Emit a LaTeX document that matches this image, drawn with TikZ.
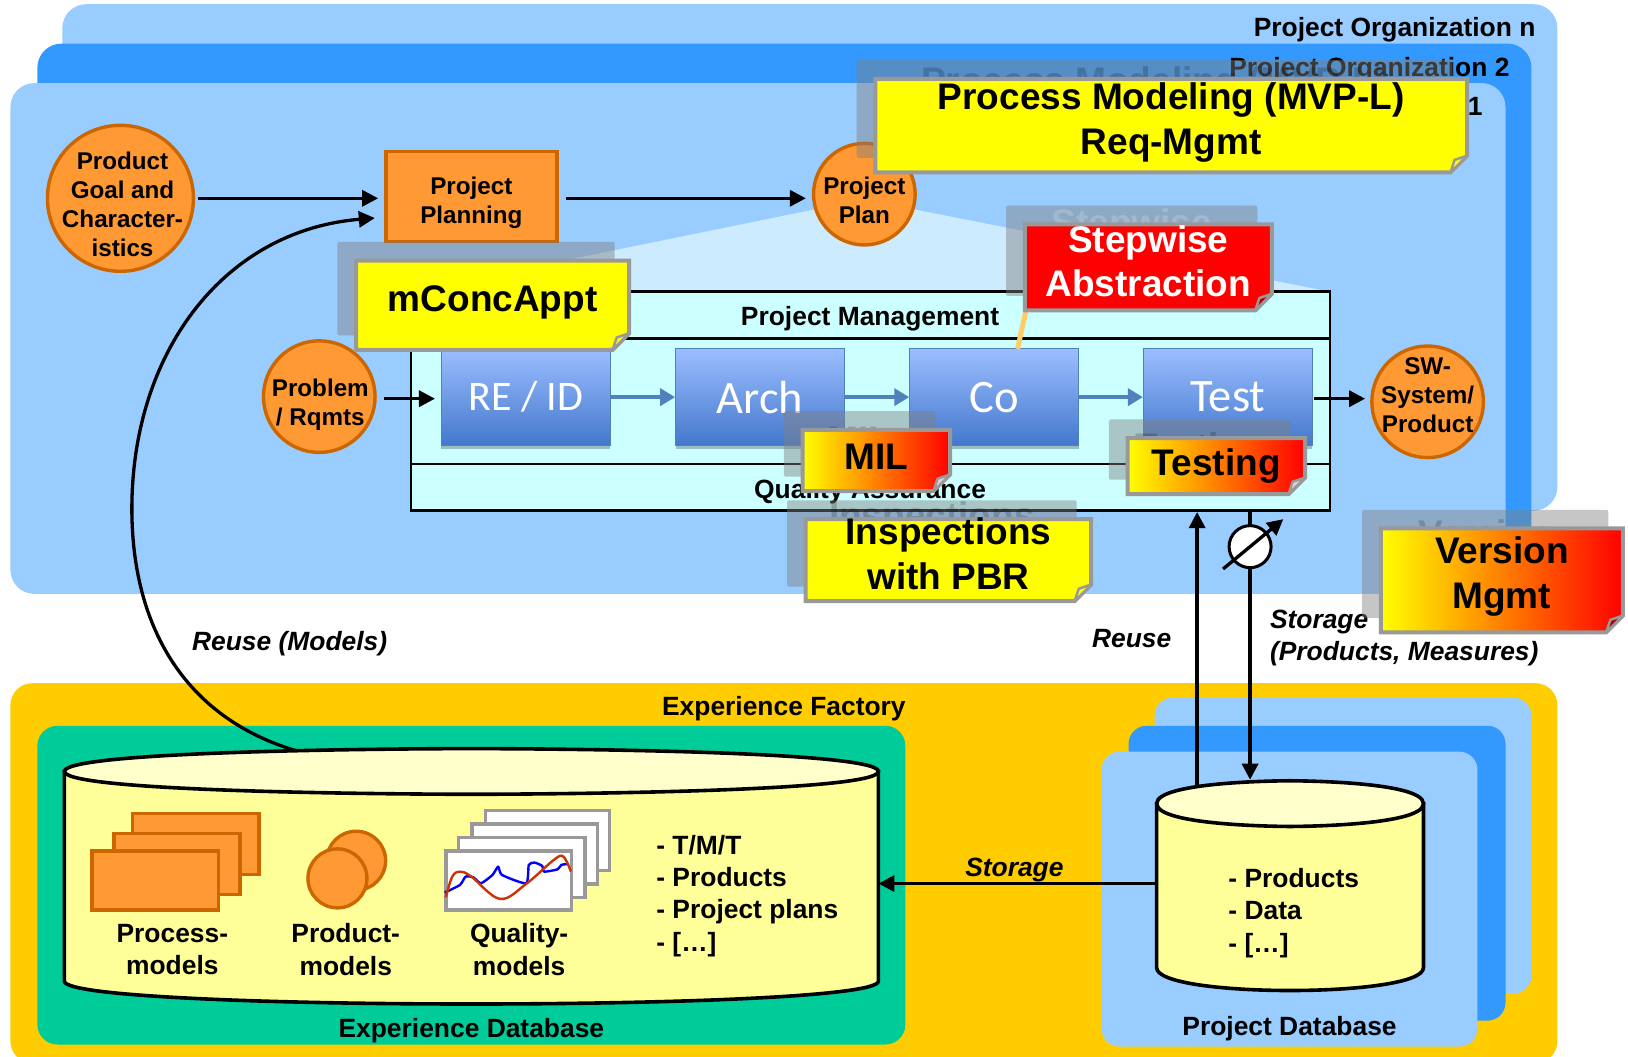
\documentclass[tikz,border=0pt]{standalone}
\usepackage{fontspec}
\setmainfont{Liberation Sans}
\newfontfamily\carl{Carlito}
\usetikzlibrary{arrows.meta,shadows,calc}
\definecolor{layerlight}{HTML}{99CCFF}
\definecolor{layerdark}{HTML}{3399FF}
\definecolor{funnelblue}{HTML}{CCEBFF}
\definecolor{framefill}{HTML}{CCFFFF}
\definecolor{orangefill}{HTML}{FF9933}
\definecolor{orangeline}{HTML}{CC6600}
\definecolor{factory}{HTML}{FFCC00}
\definecolor{tealfill}{HTML}{00CC99}
\definecolor{dbbody}{HTML}{FFFF99}
\definecolor{dbtop}{HTML}{FFFFCC}
\definecolor{notegray}{HTML}{999999}
\definecolor{shadowgray}{HTML}{808080}
\definecolor{flowblue}{HTML}{4F81BD}
\definecolor{boxtop}{HTML}{9BBEFF}
\definecolor{boxbot}{HTML}{4478CC}
\definecolor{linkorange}{HTML}{FFCC66}
\definecolor{curveblue}{HTML}{0000FF}
\definecolor{curvered}{HTML}{CC3300}
\definecolor{noteyellow}{RGB}{255,255,0}
\definecolor{notered}{RGB}{255,0,0}
\definecolor{folddark}{HTML}{B30000}
\definecolor{foldlight}{HTML}{D9D9D9}
\tikzset{
  txt/.style={font=\fontsize{26.4}{32.2}\selectfont\bfseries,align=center,inner sep=0pt},
  lefttxt/.style={txt,align=left,anchor=west},
  ital/.style={font=\fontsize{26.4}{32.2}\selectfont\bfseries\itshape,align=left,inner sep=0pt},
  smalltxt/.style={font=\fontsize{24.2}{29}\selectfont\bfseries,align=center,inner sep=0pt},
  bubble/.style={circle,draw=orangeline,fill=orangefill,line width=3.4pt,inner sep=0pt},
  orangebox/.style={rectangle,draw=orangeline,fill=orangefill,line width=3.4pt,inner sep=0pt},
  sheet/.style={draw=notegray,fill=white,line width=3.4pt},
  oframe/.style={draw=orangeline,fill=orangefill,line width=3.4pt},
  flowbox/.style={rectangle,draw=flowblue,top color=boxtop,bottom color=boxbot,line width=.8pt,inner sep=0pt,
    minimum width=169pt,minimum height=96.5pt,text=white,font=\carl\fontsize{46.5}{50}\selectfont,
    drop shadow={shadow xshift=0pt,shadow yshift=-3.5pt,opacity=.25,fill=black}},
  flow/.style={draw=flowblue,line width=4.5pt,-{Triangle[length=15pt,width=17pt]}},
  arrow/.style={draw=black,line width=3.3pt,-{Triangle[length=16pt,width=16pt]}},
  plainline/.style={draw=black,line width=2.6pt},
  dbline/.style={draw=black,line width=3.6pt},
  notefont/.style={font=\fontsize{37}{44.6}\selectfont\bfseries,align=center,inner sep=0pt},
}
\newcommand{\stickynote}[9]{%
  \pgfmathsetmacro{\nL}{#2+2}\pgfmathsetmacro{\nT}{#3+2}%
  \pgfmathsetmacro{\nR}{#4-2}\pgfmathsetmacro{\nB}{#5-2}%
  \pgfmathsetmacro{\nsL}{#2-16}\pgfmathsetmacro{\nsT}{#3-16}%
  \pgfmathsetmacro{\nsR}{#4-16}\pgfmathsetmacro{\nsB}{#5-16}%
  \pgfmathsetmacro{\nCx}{(#2+#4)/2}\pgfmathsetmacro{\nCy}{(#3+#5)/2+#9}%
  \pgfmathsetmacro{\nGx}{\nCx-16}\pgfmathsetmacro{\nGy}{\nCy-16}%
  \pgfmathsetmacro{\nFa}{\nB-16}\pgfmathsetmacro{\nFb}{\nR-16}%
  \pgfmathsetmacro{\nFc}{\nR-12}\pgfmathsetmacro{\nFd}{\nB-12}%
  \fill[shadowgray,opacity=.45,rounded corners=2pt] (\nsL,\nsT) rectangle (\nsR,\nsB);
  \node[notefont,text=#7,opacity=.18] (#1ghost) at (\nGx,\nGy) {#8};
  \path[draw=notegray,line width=4pt,#6] (\nL,\nT) -- (\nR,\nT) -- (\nR,\nFa) -- (\nFb,\nB) -- (\nL,\nB) -- cycle;
  \path[draw=notegray,fill=\foldcol,line width=2.5pt,line join=round] (\nR,\nFa) -- (\nFc,\nFd) -- (\nFb,\nB) -- cycle;
  \node[notefont,text=#7] (#1) at (\nCx,\nCy) {#8};
}
% name, left, right, top centre y, bottom centre y, radius of the ellipse
\newcommand{\dbcyl}[6]{%
  \pgfmathsetmacro{\dC}{(#2+#3)/2}\pgfmathsetmacro{\dRx}{(#3-#2)/2}%
  \pgfmathsetmacro{\dBb}{#5+1.333*#6}\pgfmathsetmacro{\dTa}{#4-#6}\pgfmathsetmacro{\dTb}{#4+#6}%
  \path[dbline,fill=dbbody] (#2,#4) -- (#2,#5) .. controls (#2,\dBb) and (#3,\dBb) .. (#3,#5) -- (#3,#4) -- cycle;
  \path[dbline,fill=dbtop] (#2,#4) .. controls (#2,\dTa) and (\dC,\dTa) .. (\dC,\dTa) .. controls (\dC,\dTa) and (#3,\dTa) .. (#3,#4) .. controls (#3,\dTb) and (\dC,\dTb) .. (\dC,\dTb) .. controls (\dC,\dTb) and (#2,\dTb) .. (#2,#4) -- cycle;
}
\begin{document}
\begin{tikzpicture}[x=1.0383pt,y=-1.0383pt,line join=miter]
\useasboundingbox (0,0) rectangle (1568,1018);
% project organisation layers
\fill[layerlight,rounded corners=24pt] (60,4) rectangle (1500,492);
\fill[layerdark,rounded corners=24pt] (36,42) rectangle (1475,535);
\fill[layerlight,rounded corners=24pt] (10,80) rectangle (1450,572);
\node[txt,anchor=east] (orgn) at (1479,29) {Project Organization n};
\node[txt,anchor=east] (org2) at (1454,67) {Project Organization 2};
\node[txt,anchor=east] (org1) at (1428,105) {Project Organization 1};
% funnel
\fill[funnelblue] (832,192) -- (396,281) -- (1281,281) -- cycle;
% frame
\node[draw=black,fill=framefill,line width=2.6pt,minimum width=919pt,minimum height=219pt,inner sep=0pt] (frame) at (838.5,386.5) {};
\coordinate (pmL) at (396,326); \coordinate (pmR) at (1281,326);
\coordinate (qaL) at (396,447); \coordinate (qaR) at (1281,447);
\draw[plainline] (pmL) -- (pmR);
\draw[plainline] (qaL) -- (qaR);
\node[txt] (pm) at (838,307) {Project Management};
\node[txt] (qa) at (838,474) {Quality Assurance};
% nodes of the process
\node[bubble,minimum size=146pt] (goal) at (116,191) {};
\node[smalltxt] (goaltext) at (118,197) {Product\\Goal and\\Character-\\istics};
\node[orangebox,minimum width=171pt,minimum height=90pt] (plan) at (454,189.5) {};
\node[smalltxt] (plantext) at (454,195) {Project\\Planning};
\node[bubble,minimum size=101.6pt] (pplan) at (832.5,187) {};
\node[smalltxt] (pplantext) at (832.5,193) {Project\\Plan};
\node[bubble,minimum size=111.6pt] (prob) at (307.5,382) {};
\node[smalltxt] (probtext) at (308.5,390) {Problem\\/ Rqmts};
\node[bubble,minimum size=111.6pt] (sw) at (1375,387) {};
\node[smalltxt] (swtext) at (1375,381) {SW-\\System/\\Product};
\node[flowbox,font=\carl\fontsize{42}{46}\selectfont] (re) at (506.5,382.5) {RE / ID};
\node[flowbox] (arch) at (732,382.5) {Arch};
\node[flowbox] (co) at (957.5,382.5) {Co};
\node[flowbox] (test) at (1182.5,382.5) {Test};
\draw[flow] (re) -- (arch);
\draw[flow] (arch) -- (co);
\draw[flow] (co) -- (test);
\draw[arrow,shorten <=3pt,shorten >=6pt] (goal.east |- 0,191) -- (plan.west |- 0,191);
\draw[arrow,shorten <=7pt,shorten >=6pt] (plan.east |- 0,191) -- (pplan.west |- 0,191);
\draw[arrow,shorten <=7pt,shorten >=6pt] (prob.east |- 0,384) -- (re.west |- 0,384);
\draw[arrow,shorten <=1pt,shorten >=5pt] (test.east |- 0,384) -- (sw.west |- 0,384);
% link from the Stepwise note to Co
\coordinate (stepFoot) at (988,300);
\coordinate (coTop) at (980,336);
\draw[linkorange,line width=5pt] (stepFoot) -- (coTop);
% experience factory
\fill[factory,rounded corners=22pt] (10,658) rectangle (1500,1024);
\node[txt] (ef) at (755,683) {Experience Factory};
\fill[tealfill,rounded corners=20pt] (36,699) rectangle (872,1006);
\node[txt] (edblabel) at (454,993) {Experience Database};
% project database stack
\fill[layerlight,rounded corners=18pt] (1112,672) rectangle (1475,957);
\fill[layerdark,rounded corners=18pt] (1087,699) rectangle (1450,983);
\fill[layerlight,rounded corners=18pt] (1061,724) rectangle (1423,1008);
\node[txt] (pdblabel) at (1242,991) {Project Database};
% reuse of models
\coordinate (edbCurve) at (285,723);
\coordinate (planIn) at (361,210);
\coordinate (curveMid) at (127,490);
\draw[arrow] (edbCurve) .. controls (175,690) and (127,600) .. (curveMid) .. controls (127,340) and (215,222) .. (planIn);
\node[ital] (reusemodels) at (279,620) {Reuse (Models)};
% databases
\dbcyl{edb}{62}{846}{743}{945}{22}
\dbcyl{pdb}{1114}{1371}{774}{932}{22}
% model icons
\path[oframe] (127.7,783.7) rectangle (249.3,842.3);
\path[oframe] (109.7,802.7) rectangle (231.3,861.3);
\path[oframe] (88.7,819.7) rectangle (210.3,876.3);
\node[txt] (procm) at (166,914.5) {Process-\\models};
\node[bubble,minimum size=59pt] (prodback) at (343,829) {};
\node[bubble,minimum size=59pt] (prodfront) at (325,846) {};
\node[txt] (prodm) at (333,914.5) {Product-\\models};
\path[sheet] (467.7,780.7) rectangle (587.3,838.3);
\path[sheet] (454.7,793.7) rectangle (575.3,851.3);
\path[sheet] (441.7,806.7) rectangle (563.3,864.3);
\path[sheet] (429.7,819.7) rectangle (550.3,876.3);
\draw[curveblue,line width=2.4pt,line join=round] plot[smooth,tension=.35] coordinates {(428.2,859.7) (443,852.3) (448.5,844.3) (455.9,845) (463.2,850.7) (474.3,842.7) (479.8,834.7) (483.5,842.7) (506.7,850.7) (509.3,833) (514.9,830.8) (522.2,834) (524.1,839.5) (537,837.3) (540.7,833) (548,832.1)};
\draw[curvered,line width=2.4pt] plot[smooth,tension=.6] coordinates {(429.4,864.2) (435.6,844.3) (443,839.5) (454,844.3) (481.7,865.8) (507.5,850.7) (533.3,828.3) (542.5,825) (549.9,839.5)};
\node[txt] (qualm) at (500,914.5) {Quality-\\models};
\node[lefttxt] (edblist) at (632,863) {- T/M/T\\- Products\\- Project plans\\- […]};
\node[lefttxt] (pdblist) at (1183,879.5) {- Products\\- Data\\- […]};
% storage and reuse between the databases and the process
\coordinate (edbE) at (846,851);
\coordinate (pdbW) at (1114,851);
\coordinate (pdbReuse) at (1153,757);
\coordinate (pdbStore) at (1204,751);
\draw[arrow] (pdbW) -- (edbE);
\node[ital] (storagea) at (977,838) {Storage};
\draw[arrow] (pdbReuse) -- (pdbReuse |- frame.south);
\draw[arrow] (pdbStore |- frame.south) -- (pdbStore);
\node[ital] (reuse) at (1090,615) {Reuse};
\node[ital,anchor=west] (storageb) at (1223,614.5) {Storage\\(Products, Measures)};
\node[circle,draw=black,fill=white,line width=3pt,minimum size=42pt,inner sep=0pt] (pump) at (1204,526.5) {};
\coordinate (pumpA) at (1178,548);
\coordinate (pumpB) at (1236,500);
\draw[arrow] (pumpA) -- (pumpB);
% notes
\def\foldcol{noteyellow}
\stickynote{mvp}{841}{74}{1415}{168}{fill=noteyellow}{black}{Process Modeling (MVP-L)\\Req-Mgmt}{-3}
\def\foldcol{folddark}
\stickynote{step}{985}{214}{1227}{301}{fill=notered}{white}{Stepwise\\Abstraction}{-6}
\def\foldcol{noteyellow}
\stickynote{conc}{341}{249}{608}{339}{fill=noteyellow}{black}{mConcAppt}{-3}
\def\foldcol{foldlight}
\stickynote{mil}{771}{412}{917}{475}{left color=noteyellow,right color=notered}{black}{MIL}{-3.5}
\def\foldcol{noteyellow}
\stickynote{insp}{774}{498}{1053}{581}{fill=noteyellow}{black}{Inspections\\with PBR}{-6}
\def\foldcol{foldlight}
\stickynote{testing}{1084}{420}{1259}{478}{left color=noteyellow,right color=notered}{black}{Testing}{0}
\def\foldcol{folddark}
\stickynote{version}{1328}{507}{1565}{611}{left color=noteyellow,right color=notered}{black}{Version\\Mgmt}{-4}
\end{tikzpicture}
\end{document}
